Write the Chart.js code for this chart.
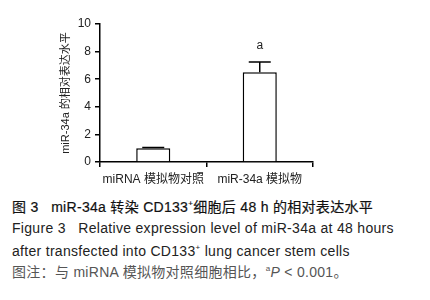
<!DOCTYPE html>
<html><head><meta charset="utf-8">
<script src="https://cdn.jsdelivr.net/npm/chart.js@4/dist/chart.umd.min.js"></script>
<style>
html,body{margin:0;padding:0;background:#fff;}
#wrap{position:relative;width:430px;height:300px;overflow:hidden;}
#c{position:absolute;left:0;top:0;}
.cap{position:absolute;left:12px;font-family:"Liberation Sans","Noto Sans CJK SC",sans-serif;font-size:14px;line-height:16px;color:#222;white-space:nowrap;letter-spacing:0.3px;}
sup{font-size:8px;vertical-align:6px;line-height:0;}
</style></head>
<body><div id="wrap">
<canvas id="c" width="430" height="195"></canvas>
<div class="cap" style="top:199px;color:#111;letter-spacing:0.3px;-webkit-text-stroke:0.2px #111;">图 3&nbsp;&nbsp;&nbsp;miR-34a 转染 CD133<sup>+</sup>细胞后 48 h 的相对表达水平</div>
<div class="cap" style="top:220px;">Figure 3&nbsp;&nbsp;&nbsp;Relative expression level of miR-34a at 48 hours</div>
<div class="cap" style="top:243px;">after transfected into CD133<sup>+</sup> lung cancer stem cells</div>
<div class="cap" style="top:264px;color:#555;">图注：与 miRNA 模拟物对照细胞相比，<sup>a</sup><i>P</i> &lt; 0.001。</div>
</div>
<script>
const categories = ["miRNA 模拟物对照", "miR-34a 模拟物"];
const means = [1.0, 6.5];
const errors = [0.05, 0.75];
const sigLabels = ["", "a"];
const yTicks = [0, 2, 4, 6, 8, 10];

const FONT = '"Liberation Sans","Noto Sans CJK SC",sans-serif';

const errPlugin = {
  id: 'errbars',
  afterDatasetsDraw(chart) {
    const ctx = chart.ctx;
    const y = chart.scales.y;
    const meta = chart.getDatasetMeta(0);
    ctx.save();
    ctx.strokeStyle = '#000';
    ctx.lineWidth = 1.5;
    meta.data.forEach((bar, i) => {
      const x = bar.x;
      const yTop = y.getPixelForValue(means[i] + errors[i]);
      const yMean = y.getPixelForValue(means[i]);
      const cap = 11;
      ctx.beginPath();
      ctx.moveTo(x, yMean);
      ctx.lineTo(x, yTop);
      ctx.moveTo(x - cap, yTop);
      ctx.lineTo(x + cap, yTop);
      ctx.stroke();
      if (sigLabels[i]) {
        ctx.fillStyle = '#222';
        ctx.font = '12px ' + FONT;
        ctx.textAlign = 'center';
        ctx.textBaseline = 'middle';
        ctx.fillText(sigLabels[i], x, yTop - 16);
      }
    });
    ctx.restore();
  }
};

new Chart(document.getElementById('c'), {
  type: 'bar',
  data: {
    labels: categories,
    datasets: [{
      data: means,
      backgroundColor: '#fff',
      borderColor: '#000',
      borderWidth: 1.5,
      barPercentage: 0.32,
      categoryPercentage: 1.0
    }]
  },
  options: {
    responsive: false,
    animation: false,
    devicePixelRatio: 1,
    layout: { padding: { left: 59, right: 117, top: 24, bottom: 0 } },
    plugins: { legend: { display: false }, tooltip: { enabled: false } },
    scales: {
      x: {
        grid: { drawOnChartArea: false, drawTicks: true, tickLength: 5, color: '#000', lineWidth: 1.5 },
        border: { display: true, color: '#000', width: 1.5 },
        ticks: { color: '#222', font: { size: 12, family: FONT }, padding: 5, maxRotation: 0 },
        afterFit(s) { s.height = 33; }
      },
      y: {
        min: 0, max: 10,
        afterBuildTicks(s) { s.ticks = yTicks.map(v => ({ value: v })); },
        grid: { drawOnChartArea: false, drawTicks: true, tickLength: 5, color: '#000', lineWidth: 1.5 },
        border: { display: true, color: '#000', width: 1.5 },
        ticks: { color: '#222', font: { size: 12, family: FONT }, padding: 4 },
        title: { display: true, text: 'miR-34a 的相对表达水平', color: '#222', font: { size: 11, family: FONT }, padding: { top: 0, bottom: 2 } },
        afterFit(s) { s.width = 41; }
      }
    }
  },
  plugins: [errPlugin]
});
</script>
</body></html>
